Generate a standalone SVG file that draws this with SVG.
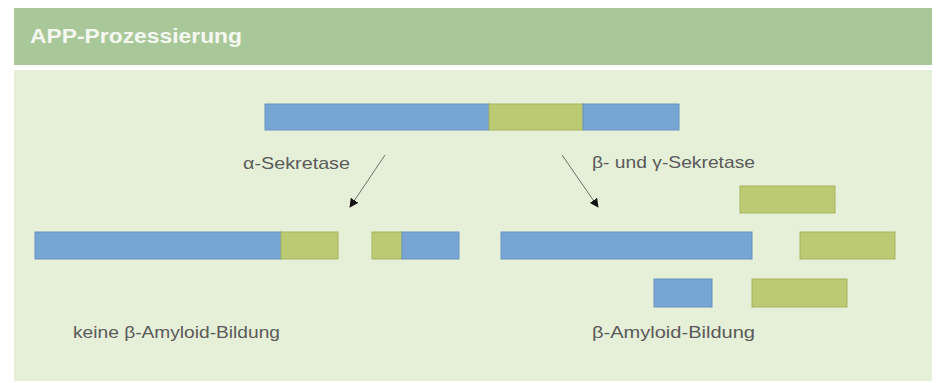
<svg xmlns="http://www.w3.org/2000/svg" width="937" height="383" viewBox="0 0 937 383">
<defs>
<style>
.b{fill:#77a6d4;stroke:#6793c0;stroke-width:1}
.g{fill:#bccb73;stroke:#a5b360;stroke-width:1}
.t{font-family:"Liberation Sans",Arial,sans-serif;font-size:17px;fill:#5a5a5a}
.c{stroke:#707070;stroke-width:1;fill:none;marker-end:url(#ah)}
</style>
<marker id="ah" viewBox="0 0 10 10" refX="9" refY="5" markerWidth="9" markerHeight="9" markerUnits="userSpaceOnUse" orient="auto">
<path d="M0,0 L10,5 L0,10 z" fill="#111"/>
</marker>
</defs>
<rect x="0" y="0" width="937" height="383" fill="#ffffff"/>
<g id="header">
<rect x="14" y="8" width="918" height="57" fill="#a9c89a"/>
<text x="30" y="43" font-family="Liberation Sans,Arial,sans-serif" font-weight="bold" font-size="20" fill="#f4f8f0" textLength="212" lengthAdjust="spacingAndGlyphs">APP-Prozessierung</text>
</g>
<rect x="14" y="70" width="918" height="311" fill="#e6efd7"/>
<g id="app">
<rect class="b" x="265" y="104" width="224" height="26"/>
<rect class="g" x="489" y="104" width="94" height="26"/>
<rect class="b" x="583" y="104" width="96" height="26"/>
</g>
<g id="alpha-fragment-long">
<rect class="b" x="35" y="232" width="246" height="27"/>
<rect class="g" x="281" y="232" width="57" height="27"/>
</g>
<g id="alpha-fragment-short">
<rect class="g" x="372" y="232" width="30" height="27"/>
<rect class="b" x="402" y="232" width="57" height="27"/>
</g>
<g id="beta-fragment-long">
<rect class="b" x="501" y="232" width="251" height="27"/>
</g>
<g id="beta-green-top">
<rect class="g" x="740" y="186" width="95" height="27"/>
</g>
<g id="beta-green-mid">
<rect class="g" x="800" y="232" width="95" height="27"/>
</g>
<g id="beta-blue-small">
<rect class="b" x="654" y="279" width="58" height="28"/>
</g>
<g id="beta-green-bottom">
<rect class="g" x="752" y="279" width="95" height="28"/>
</g>
<g id="labels">
<text class="t" x="243" y="169" textLength="107" lengthAdjust="spacingAndGlyphs">α-Sekretase</text>
<text class="t" x="592" y="168" textLength="163" lengthAdjust="spacingAndGlyphs">β- und γ-Sekretase</text>
<text class="t" x="73" y="338" textLength="207" lengthAdjust="spacingAndGlyphs">keine β-Amyloid-Bildung</text>
<text class="t" x="592" y="338" textLength="163" lengthAdjust="spacingAndGlyphs">β-Amyloid-Bildung</text>
</g>
<g id="connectors">
<line class="c" x1="385" y1="155" x2="350" y2="207"/>
<line class="c" x1="562" y1="155" x2="598" y2="207"/>
</g>
</svg>
